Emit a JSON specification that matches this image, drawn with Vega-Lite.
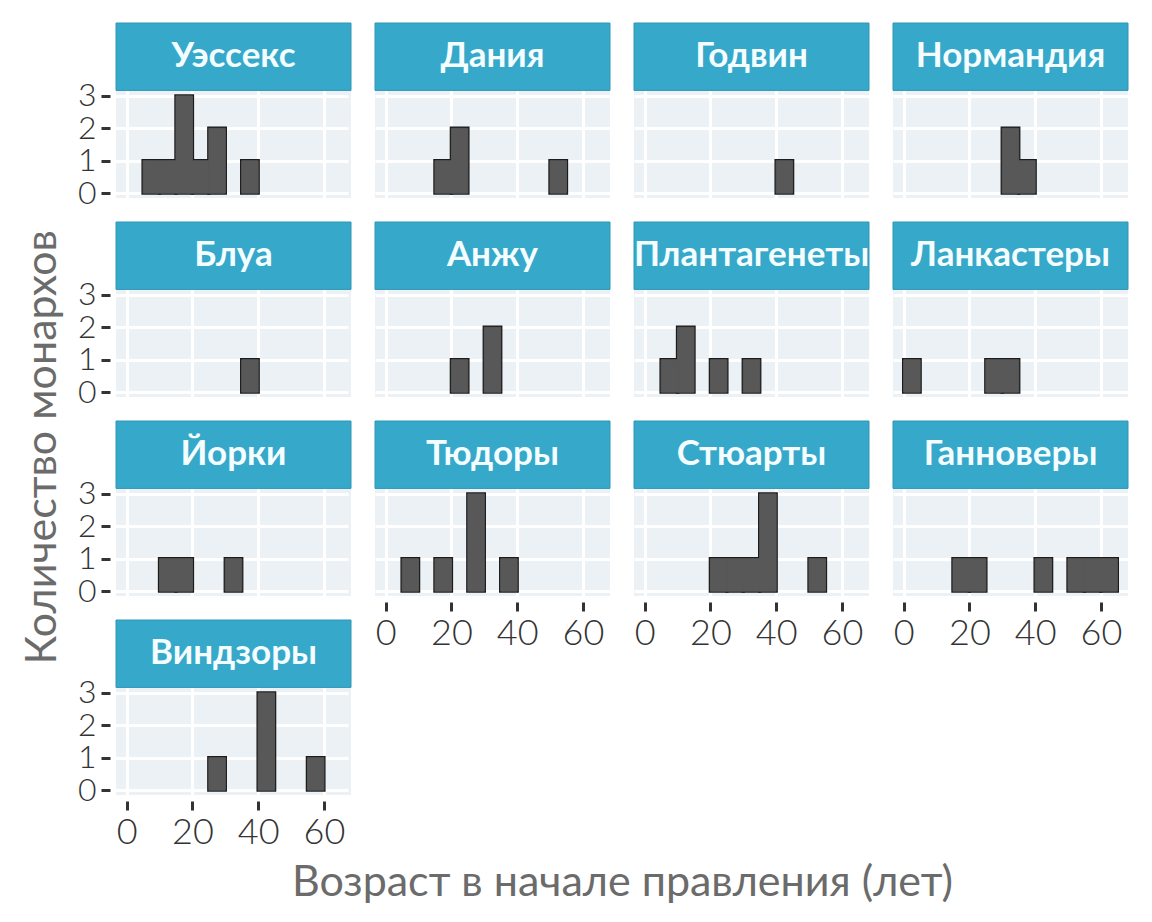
{
  "$schema": "https://vega.github.io/schema/vega-lite/v6.json",
  "padding": {"left": 22, "top": 22, "right": 10, "bottom": 10},
  "title": {
    "text": "Возраст в начале правления (лет)",
    "orient": "bottom",
    "anchor": "middle",
    "font": "Lato",
    "fontSize": 43,
    "fontWeight": "normal",
    "color": "#6b6b6b",
    "offset": 12,
    "dx": 47
  },
  "data": {
    "values": [
      {"house": "Уэссекс", "start": 5, "end": 10, "count": 1},
      {"house": "Уэссекс", "start": 10, "end": 15, "count": 1},
      {"house": "Уэссекс", "start": 15, "end": 20, "count": 3},
      {"house": "Уэссекс", "start": 20, "end": 25, "count": 1},
      {"house": "Уэссекс", "start": 25, "end": 30, "count": 2},
      {"house": "Уэссекс", "start": 35, "end": 40, "count": 1},
      {"house": "Дания", "start": 15, "end": 20, "count": 1},
      {"house": "Дания", "start": 20, "end": 25, "count": 2},
      {"house": "Дания", "start": 50, "end": 55, "count": 1},
      {"house": "Годвин", "start": 40, "end": 45, "count": 1},
      {"house": "Нормандия", "start": 30, "end": 35, "count": 2},
      {"house": "Нормандия", "start": 35, "end": 40, "count": 1},
      {"house": "Блуа", "start": 35, "end": 40, "count": 1},
      {"house": "Анжу", "start": 20, "end": 25, "count": 1},
      {"house": "Анжу", "start": 30, "end": 35, "count": 2},
      {"house": "Плантагенеты", "start": 5, "end": 10, "count": 1},
      {"house": "Плантагенеты", "start": 10, "end": 15, "count": 2},
      {"house": "Плантагенеты", "start": 20, "end": 25, "count": 1},
      {"house": "Плантагенеты", "start": 30, "end": 35, "count": 1},
      {"house": "Ланкастеры", "start": 0, "end": 5, "count": 1},
      {"house": "Ланкастеры", "start": 25, "end": 30, "count": 1},
      {"house": "Ланкастеры", "start": 30, "end": 35, "count": 1},
      {"house": "Йорки", "start": 10, "end": 15, "count": 1},
      {"house": "Йорки", "start": 15, "end": 20, "count": 1},
      {"house": "Йорки", "start": 30, "end": 35, "count": 1},
      {"house": "Тюдоры", "start": 5, "end": 10, "count": 1},
      {"house": "Тюдоры", "start": 15, "end": 20, "count": 1},
      {"house": "Тюдоры", "start": 25, "end": 30, "count": 3},
      {"house": "Тюдоры", "start": 35, "end": 40, "count": 1},
      {"house": "Стюарты", "start": 20, "end": 25, "count": 1},
      {"house": "Стюарты", "start": 25, "end": 30, "count": 1},
      {"house": "Стюарты", "start": 30, "end": 35, "count": 1},
      {"house": "Стюарты", "start": 35, "end": 40, "count": 3},
      {"house": "Стюарты", "start": 50, "end": 55, "count": 1},
      {"house": "Ганноверы", "start": 15, "end": 20, "count": 1},
      {"house": "Ганноверы", "start": 20, "end": 25, "count": 1},
      {"house": "Ганноверы", "start": 40, "end": 45, "count": 1},
      {"house": "Ганноверы", "start": 50, "end": 55, "count": 1},
      {"house": "Ганноверы", "start": 55, "end": 60, "count": 1},
      {"house": "Ганноверы", "start": 60, "end": 65, "count": 1},
      {"house": "Виндзоры", "start": 25, "end": 30, "count": 1},
      {"house": "Виндзоры", "start": 40, "end": 45, "count": 3},
      {"house": "Виндзоры", "start": 55, "end": 60, "count": 1}
    ]
  },
  "spacing": 22,
  "hconcat": [
    {
      "title": {
        "text": "Количество монархов",
        "orient": "left",
        "anchor": "middle",
        "font": "Lato",
        "fontSize": 43,
        "fontWeight": "normal",
        "color": "#6b6b6b",
        "offset": 12,
        "dx": -11
      },
      "transform": [{"filter": {"field": "house", "oneOf": ["Уэссекс", "Блуа", "Йорки", "Виндзоры"]}}],
      "facet": {
        "field": "house",
        "type": "nominal",
        "header": {"labels": false, "title": null, "labelExpr": "''", "labelFontSize": 0, "labelPadding": 0, "titlePadding": 0},
        "sort": ["Уэссекс", "Блуа", "Йорки", "Виндзоры"]
      },
      "columns": 1,
      "spacing": {"row": 20, "column": 22},
      "spec": {
        "width": 235,
        "height": 175,
        "layer": [
          {
            "mark": {"type": "rect", "fill": "#585858", "stroke": "#1c1c1c", "strokeWidth": 3.4},
            "encoding": {
              "x": {
                "field": "start",
                "type": "quantitative",
                "scale": {"domain": [-3.25, 68.25], "nice": false, "zero": false},
                "axis": {
                  "title": null,
                  "values": [0, 10, 20, 30, 40, 50, 60],
                  "labelOverlap": false,
                  "labelFontSize": 36,
                  "labelExpr": "datum.value % 20 == 0 ? datum.label : ''",
                  "tickOpacity": {"condition": {"test": "datum.value % 20 == 0", "value": 1}, "value": 0},
                  "gridWidth": {"condition": {"test": "datum.value % 20 == 0", "value": 3}, "value": 1.6}
                }
              },
              "x2": {"field": "end"},
              "y": {
                "field": "count",
                "type": "quantitative",
                "scale": {"domain": [-0.15, 5.25], "nice": false, "zero": false},
                "axis": {
                  "title": null,
                  "values": [0, 0.5, 1, 1.5, 2, 2.5, 3],
                  "labelOverlap": false,
                  "labelFontSize": 32,
                  "labelExpr": "datum.value % 1 == 0 ? datum.label : ''",
                  "tickOpacity": {"condition": {"test": "datum.value % 1 == 0", "value": 1}, "value": 0},
                  "gridWidth": {"condition": {"test": "datum.value % 1 == 0", "value": 3}, "value": 1.6}
                }
              },
              "y2": {"datum": 0}
            }
          },
          {
            "mark": {"type": "rect", "fill": "#585858", "stroke": "#585858", "strokeWidth": 1},
            "encoding": {
              "x": {"field": "start", "type": "quantitative"},
              "x2": {"field": "end"},
              "y": {"field": "count", "type": "quantitative"},
              "y2": {"datum": 0}
            }
          },
          {
            "transform": [{"aggregate": [{"op": "count", "as": "n"}], "groupby": ["house"]}],
            "layer": [
              {
                "mark": {"type": "rect", "fill": "#36A8C9", "stroke": "#2f97b6", "strokeWidth": 1},
                "encoding": {
                  "x": {"datum": -3.25, "type": "quantitative"},
                  "x2": {"datum": 68.25},
                  "y": {"datum": 3.17, "type": "quantitative"},
                  "y2": {"datum": 5.25}
                }
              },
              {
                "mark": {"type": "text", "font": "Lato", "fontSize": 35, "fontWeight": "bold", "color": "#f4fdff", "align": "center", "baseline": "middle"},
                "encoding": {
                  "x": {"datum": 32.5, "type": "quantitative"},
                  "y": {"datum": 4.24, "type": "quantitative"},
                  "text": {"field": "house", "type": "nominal"}
                }
              }
            ]
          }
        ]
      }
    },
    {
      "transform": [{"filter": {"field": "house", "oneOf": ["Дания", "Годвин", "Нормандия", "Анжу", "Плантагенеты", "Ланкастеры", "Тюдоры", "Стюарты", "Ганноверы"]}}],
      "facet": {
        "field": "house",
        "type": "nominal",
        "header": {"labels": false, "title": null, "labelExpr": "''", "labelFontSize": 0, "labelPadding": 0, "titlePadding": 0},
        "sort": ["Дания", "Годвин", "Нормандия", "Анжу", "Плантагенеты", "Ланкастеры", "Тюдоры", "Стюарты", "Ганноверы"]
      },
      "columns": 3,
      "spacing": {"row": 20, "column": 22},
      "spec": {
        "width": 235,
        "height": 175,
        "layer": [
          {
            "mark": {"type": "rect", "fill": "#585858", "stroke": "#1c1c1c", "strokeWidth": 3.4},
            "encoding": {
              "x": {
                "field": "start",
                "type": "quantitative",
                "scale": {"domain": [-3.25, 68.25], "nice": false, "zero": false},
                "axis": {
                  "title": null,
                  "values": [0, 10, 20, 30, 40, 50, 60],
                  "labelOverlap": false,
                  "labelFontSize": 36,
                  "labelExpr": "datum.value % 20 == 0 ? datum.label : ''",
                  "tickOpacity": {"condition": {"test": "datum.value % 20 == 0", "value": 1}, "value": 0},
                  "gridWidth": {"condition": {"test": "datum.value % 20 == 0", "value": 3}, "value": 1.6}
                }
              },
              "x2": {"field": "end"},
              "y": {
                "field": "count",
                "type": "quantitative",
                "scale": {"domain": [-0.15, 5.25], "nice": false, "zero": false},
                "axis": {
                  "title": null,
                  "values": [0, 0.5, 1, 1.5, 2, 2.5, 3],
                  "labels": false,
                  "ticks": false,
                  "offset": 0,
                  "gridWidth": {"condition": {"test": "datum.value % 1 == 0", "value": 3}, "value": 1.6}
                }
              },
              "y2": {"datum": 0}
            }
          },
          {
            "mark": {"type": "rect", "fill": "#585858", "stroke": "#585858", "strokeWidth": 1},
            "encoding": {
              "x": {"field": "start", "type": "quantitative"},
              "x2": {"field": "end"},
              "y": {"field": "count", "type": "quantitative"},
              "y2": {"datum": 0}
            }
          },
          {
            "transform": [{"aggregate": [{"op": "count", "as": "n"}], "groupby": ["house"]}],
            "layer": [
              {
                "mark": {"type": "rect", "fill": "#36A8C9", "stroke": "#2f97b6", "strokeWidth": 1},
                "encoding": {
                  "x": {"datum": -3.25, "type": "quantitative"},
                  "x2": {"datum": 68.25},
                  "y": {"datum": 3.17, "type": "quantitative"},
                  "y2": {"datum": 5.25}
                }
              },
              {
                "mark": {"type": "text", "font": "Lato", "fontSize": 35, "fontWeight": "bold", "color": "#f4fdff", "align": "center", "baseline": "middle"},
                "encoding": {
                  "x": {"datum": 32.5, "type": "quantitative"},
                  "y": {"datum": 4.24, "type": "quantitative"},
                  "text": {"field": "house", "type": "nominal"}
                }
              }
            ]
          }
        ]
      }
    }
  ],
  "config": {
    "view": {"fill": "#EBF1F5", "stroke": null},
    "font": "Lato",
    "header": {"labels": false, "title": null, "labelFontSize": 0, "labelPadding": 0},
    "axis": {
      "domain": false,
      "gridColor": "#ffffff",
      "tickColor": "#333333",
      "tickWidth": 3,
      "tickSize": 9,
      "labelFont": "Lato",
      "labelFontSize": 36,
      "labelFontWeight": 300,
      "labelColor": "#333333",
      "labelPadding": 5,
      "offset": 3
    }
  }
}
